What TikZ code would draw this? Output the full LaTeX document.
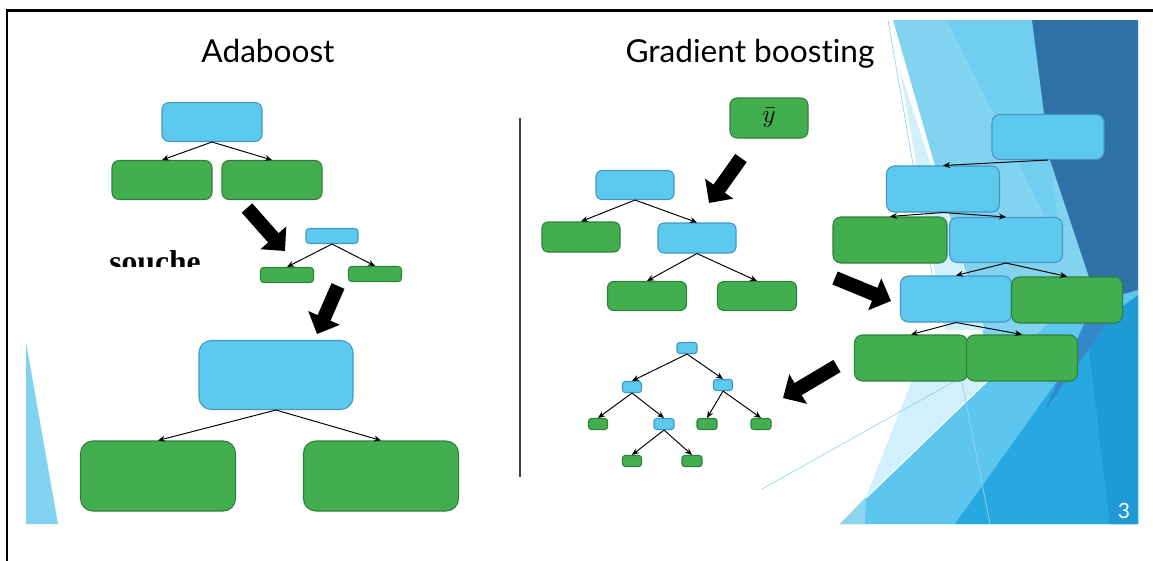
\documentclass[tikz,border=0pt]{standalone}
\usepackage{fontspec}
\setmainfont{Lato}[Ligatures=NoCommon]
\newfontfamily\soucheface{Liberation Serif}
\usetikzlibrary{arrows.meta}
\definecolor{splitblue}{RGB}{94,201,239}
\definecolor{splitedge}{RGB}{66,150,196}
\definecolor{leafgreen}{RGB}{66,174,80}
\definecolor{leafedge}{RGB}{48,128,60}
\definecolor{bgpale}{RGB}{210,240,251}
\definecolor{bglight}{RGB}{130,211,240}
\definecolor{bgmidtop}{RGB}{114,206,239}
\definecolor{bglightmid}{RGB}{140,212,240}
\definecolor{bgmid}{RGB}{92,198,238}
\definecolor{bgdark}{RGB}{46,113,166}
\definecolor{bgwedge}{RGB}{52,136,200}
\definecolor{bgbright}{RGB}{39,168,224}
\definecolor{bgdeep}{RGB}{30,154,214}
\definecolor{bgline}{RGB}{150,212,234}

\tikzset{
  split/.style={draw=splitedge, fill=splitblue, line width=0.6pt, inner sep=0pt},
  leaf/.style={draw=leafedge, fill=leafgreen, line width=0.6pt, inner sep=0pt},
  sz/.style 2 args={minimum width=#1*0.02cm, minimum height=#2*0.02cm},
  edge/.style={line width=0.55pt, -{Stealth[length=4pt,width=3.4pt]}},
  bigarrow/.style={line width=8pt, -{Triangle[length=10pt,width=19pt]}},
  title/.style={anchor=base, font=\fontsize{18}{20}\selectfont}
}

\begin{document}
\begin{tikzpicture}[x=0.02cm,y=-0.02cm]
\useasboundingbox (0,0) rectangle (1153,561);

% frame
\draw [line width=1.2pt] (7,561)--(7,10.5)--(1153,10.5);

% slide background facets
\begin{scope}
\clip (26,20) rectangle (1138,524);
\fill [bglight] (26,342)--(58,524)--(26,524)--cycle;
% top right
\fill [bglight] (893,20)--(1138,20)--(1138,340)--(985,340)--cycle;
\fill [bgmidtop] (947,20)--(1032,20)--(1062,250)--cycle;
\fill [bgpale] (900,70)--(985,330)--(945,330)--cycle;
\draw [bgline, line width=0.4pt] (888,20)--(940,320);
\fill [bgdark] (1032,20)--(1138,20)--(1138,290)--(1100,310)--(1050,160)--cycle;
% bottom right
\fill [bgmid] (840,524)--(1060,312)--(1138,290)--(1138,524)--cycle;
\fill [bglightmid] (840,524)--(866,497)--(865,524)--cycle;
\fill [bgpale] (916,370)--(998,370)--(866,497)--cycle;
\fill [bgbright] (955,524)--(1090,335)--(1138,300)--(1138,524)--cycle;
\fill [bgdeep] (1087,333)--(1138,295)--(1138,524)--(1110,524)--cycle;
\fill [bgwedge] (1085,322)--(1108,322)--(1045,410)--cycle;
\draw [bgline, line width=0.4pt] (762,489)--(955,381);
\draw [bgline, line width=0.4pt] (962,382)--(990,524);
\end{scope}

\node [text=white, font=\fontsize{12}{12}\selectfont] (pagenum) at (1124,511) {3};

% titles
\node [title] (adatitle) at (268,62) {Adaboost};
\node [title] (gbtitle) at (750,62) {Gradient boosting};
\draw [line width=0.6pt, black!75] (520,118)--(520,477);

% Adaboost: first stump
\node [split, sz={100}{39}, rounded corners=4pt] (a0) at (212,122) {};
\node [leaf, sz={100}{39}, rounded corners=4pt] (a1) at (162,180) {};
\node [leaf, sz={100}{39}, rounded corners=4pt] (a2) at (272,180) {};
\draw [edge] (a0.south) -- (a1.north);
\draw [edge] (a0.south) -- (a2.north);

% small stump
\node [split, sz={52}{15}, rounded corners=1.8pt] (b0) at (332,236) {};
\node [leaf, sz={53}{15}, rounded corners=1.8pt] (b1) at (287,275) {};
\node [leaf, sz={53}{15}, rounded corners=1.8pt] (b2) at (375,274) {};
\draw [edge] (b0.south) -- (b1.north);
\draw [edge] (b0.south) -- (b2.north);

\begin{scope}
\clip (100,240) rectangle (215,266);
\node [anchor=base west, inner sep=0pt, font=\soucheface\bfseries\fontsize{18}{20}\selectfont] (souche) at (109,272) {souche};
\end{scope}

% big stump
\node [split, sz={154}{69}, rounded corners=7pt] (c0) at (276,375) {};
\node [leaf, sz={155}{70}, rounded corners=7pt] (c1) at (158,476) {};
\node [leaf, sz={155}{70}, rounded corners=7pt] (c2) at (381,476) {};
\draw [edge] (c0.south) -- (c1.north);
\draw [edge] (c0.south) -- (c2.north);

\draw [bigarrow] (247,208) -- (285,251);
\draw [bigarrow] (338,286) -- (317,334);

% Gradient boosting
\node [leaf, sz={78}{40}, rounded corners=4pt, font=\fontsize{14}{14}\selectfont] (ybar) at (769,118) {$\bar{y}$};

\node [split, sz={78}{29}, rounded corners=3.5pt] (g0) at (635,185) {};
\node [leaf, sz={78}{30}, rounded corners=3.5pt] (g1) at (581,237) {};
\node [split, sz={78}{30}, rounded corners=3.5pt] (g2) at (697,238) {};
\node [leaf, sz={79}{29}, rounded corners=3.5pt] (g3) at (647,296) {};
\node [leaf, sz={79}{29}, rounded corners=3.5pt] (g4) at (757,296) {};
\draw [edge] (g0.south) -- (g1.north);
\draw [edge] (g0.south) -- (g2.north);
\draw [edge] (g2.south) -- (g3.north);
\draw [edge] (g2.south) -- (g4.north);

% big tree on the right
\node [split, sz={112}{45}, rounded corners=4.5pt] (r0) at (1048,137) {};
\node [split, sz={113}{46}, rounded corners=4.5pt] (r1) at (943,189) {};
\node [leaf, sz={114}{46}, rounded corners=4.5pt] (r2) at (890,240) {};
\node [split, sz={113}{45}, rounded corners=4.5pt] (r3) at (1006,240) {};
\node [split, sz={111}{46}, rounded corners=4.5pt] (r4) at (956,299) {};
\node [leaf, sz={111}{46}, rounded corners=4.5pt] (r5) at (1067,300) {};
\node [leaf, sz={113}{46}, rounded corners=4.5pt] (r6) at (911,358) {};
\node [leaf, sz={111}{46}, rounded corners=4.5pt] (r7) at (1022,358) {};
\draw [edge] (r0.south) -- (r1.north);
\draw [edge] (r1.south) -- (r2.north);
\draw [edge] (r1.south) -- (r3.north);
\draw [edge] (r3.south) -- (r4.north);
\draw [edge] (r3.south) -- (r5.north);
\draw [edge] (r4.south) -- (r6.north);
\draw [edge] (r4.south) -- (r7.north);

% deep tree
\node [split, sz={20}{11}, rounded corners=1.5pt] (t0) at (687,348) {};
\node [split, sz={19}{11}, rounded corners=1.5pt] (t1) at (632,387) {};
\node [split, sz={19}{11}, rounded corners=1.5pt] (t2) at (723,385) {};
\node [leaf, sz={19}{11}, rounded corners=1.5pt] (t3) at (598,424) {};
\node [split, sz={20}{11}, rounded corners=1.5pt] (t4) at (664,424) {};
\node [leaf, sz={20}{11}, rounded corners=1.5pt] (t5) at (707,424) {};
\node [leaf, sz={20}{11}, rounded corners=1.5pt] (t6) at (761,424) {};
\node [leaf, sz={19}{11}, rounded corners=1.5pt] (t7) at (632,461) {};
\node [leaf, sz={20}{11}, rounded corners=1.5pt] (t8) at (692,461) {};
\draw [edge] (t0.south) -- (t1.north);
\draw [edge] (t0.south) -- (t2.north);
\draw [edge] (t1.south) -- (t3.north);
\draw [edge] (t1.south) -- (t4.north);
\draw [edge] (t2.south) -- (t5.north);
\draw [edge] (t2.south) -- (t6.north);
\draw [edge] (t4.south) -- (t7.north);
\draw [edge] (t4.south) -- (t8.north);

\draw [bigarrow] (741,158) -- (709,203);
\draw [bigarrow] (835,278) -- (891,301);
\draw [bigarrow] (837,366) -- (783,398);

\end{tikzpicture}
\end{document}
